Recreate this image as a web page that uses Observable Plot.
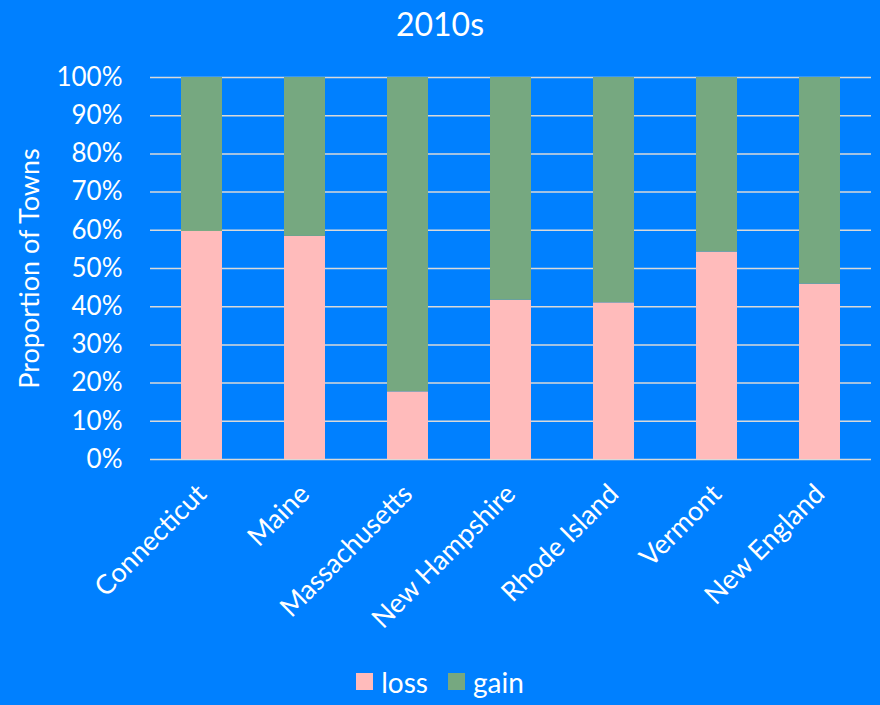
<!DOCTYPE html>
<html>
<head>
<meta charset="utf-8">
<script src="https://cdn.jsdelivr.net/npm/d3@7"></script>
<script src="https://cdn.jsdelivr.net/npm/@observablehq/plot@0.6"></script>
<style>
  html, body { margin: 0; padding: 0; background: #0080FF; }
  body { width: 880px; height: 705px; overflow: hidden; font-family: Lato, "Open Sans", sans-serif; color: #fff; }
  #title { height: 50px; line-height: 48px; text-align: center; font-size: 32px; }
  #legend { height: 55px; display: flex; justify-content: center; align-items: center; gap: 20px; font-size: 28px; padding-top: 8px; box-sizing: border-box; }
  .sw { display: inline-block; width: 17px; height: 17px; margin-right: 8px; }
  .item { display: flex; align-items: center; }
</style>
</head>
<body>
<div id="title">2010s</div>
<div id="chart"></div>
<div id="legend"></div>
<script>
const states = ["Connecticut", "Maine", "Massachusetts", "New Hampshire", "Rhode Island", "Vermont", "New England"];
const lossPct = [59.7, 58.4, 17.7, 41.7, 41.0, 54.3, 45.9];
const gainPct = [40.3, 41.6, 82.3, 58.3, 59.0, 45.7, 54.1];
const series = ["loss", "gain"];
const seriesColors = ["#FFBBBB", "#76A880"];
const yTicks = [0, 10, 20, 30, 40, 50, 60, 70, 80, 90, 100];

const rows = [];
states.forEach((s, i) => {
  rows.push({state: s, kind: "loss", value: lossPct[i]});
  rows.push({state: s, kind: "gain", value: gainPct[i]});
});

const chart = Plot.plot({
  width: 880,
  height: 600,
  marginTop: 27,
  marginBottom: 191,
  marginLeft: 150,
  marginRight: 9,
  style: {background: "transparent", color: "#fff", fontFamily: "Lato, 'Open Sans', sans-serif", fontSize: "26px"},
  x: {domain: states, paddingInner: 0.6, paddingOuter: 0.3, label: null},
  y: {domain: [0, 100], label: null},
  color: {domain: series, range: seriesColors},
  marks: [
    Plot.ruleY(yTicks, {stroke: "#d9d9d9", strokeWidth: 1.5}),
    Plot.barY(rows, Plot.stackY({x: "state", y: "value", fill: "kind", order: series})),
    Plot.axisY({ticks: yTicks, tickFormat: d => d + "%", tickSize: 0, tickPadding: 28, fontSize: 26, fill: "#fff", label: null}),
    Plot.axisX({tickSize: 0, tickRotate: -45, tickPadding: 30, fontSize: 27, fill: "#fff", label: null}),
    Plot.text(["Proportion of Towns"], {frameAnchor: "left", dx: -120, rotate: -90, fontSize: 27, fill: "#fff", textAnchor: "middle"})
  ]
});
document.getElementById("chart").appendChild(chart);

const lg = document.getElementById("legend");
series.forEach((s, i) => {
  const it = document.createElement("span");
  it.className = "item";
  it.innerHTML = `<span class="sw" style="background:${seriesColors[i]}"></span>${s}`;
  lg.appendChild(it);
});
</script>
</body>
</html>
